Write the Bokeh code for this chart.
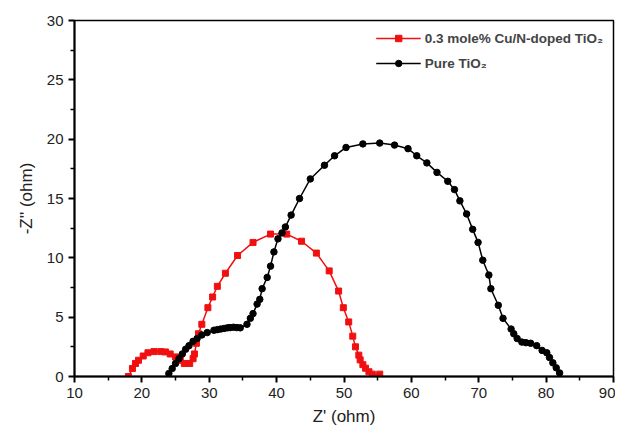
from bokeh.plotting import figure
from bokeh.models import Range1d, FixedTicker, Legend, LegendItem
from bokeh.embed import file_html
from bokeh.resources import INLINE

# Cu/N-doped TiO2 (red)
doped_x = [18.0, 18.6, 19.05, 19.5, 20.2, 20.9, 21.8, 22.8, 23.5, 24.2, 25.0, 25.7, 26.3,
           27.1, 27.6, 27.8, 28.1, 28.4, 28.9, 29.8, 30.5, 31.2, 32.4, 34.2, 36.5, 39.1,
           41.5, 43.7, 45.9, 47.8, 49.2, 49.9, 50.7, 51.3, 51.7, 52.2, 52.4, 52.8, 53.2,
           53.7, 54.2, 55.3]
doped_y = [0.0, 0.67, 1.1, 1.37, 1.73, 2.0, 2.1, 2.1, 2.07, 1.9, 1.65, 1.37, 1.1,
           1.1, 1.5, 1.9, 2.8, 3.6, 4.4, 5.8, 6.7, 7.6, 8.7, 10.2, 11.3, 12.0,
           12.0, 11.4, 10.4, 8.9, 7.2, 5.8, 4.6, 3.4, 2.5, 1.8, 1.4, 1.0, 0.7,
           0.4, 0.2, 0.2]

# Pure TiO2 (black)
pure_x = [24.0, 24.5, 25.0, 25.5, 26.0, 26.5, 27.0, 27.6, 28.2, 28.9, 29.7, 30.7, 31.2,
          31.7, 32.2, 32.7, 33.1, 33.6, 34.1, 34.6, 35.6, 36.1, 36.5, 37.1, 37.5, 37.85,
          38.6, 39.1, 39.6, 40.2, 40.8, 41.3, 42.15, 43.4, 45.0, 47.1, 48.6, 50.3, 52.8,
          55.3, 57.5, 59.5, 60.8, 62.3, 63.8, 65.4, 66.4, 67.2, 68.2, 69.1, 69.9, 70.6,
          71.5, 71.8, 72.9, 73.6, 74.8, 75.2, 75.7, 76.4, 77.0, 77.7, 78.6, 79.4, 80.1,
          80.5, 81.0, 81.5, 82.0]
pure_y = [0.25, 0.67, 1.1, 1.5, 1.9, 2.3, 2.6, 2.96, 3.2, 3.5, 3.7, 3.9, 3.95,
          4.0, 4.05, 4.1, 4.12, 4.15, 4.12, 4.1, 4.4, 4.9, 5.3, 6.1, 6.5, 7.4,
          8.35, 9.3, 10.5, 11.6, 12.1, 12.6, 13.6, 15.0, 16.65, 17.8, 18.6, 19.3, 19.6,
          19.67, 19.5, 19.2, 18.6, 18.0, 17.2, 16.45, 15.75, 14.8, 13.7, 12.4, 11.3, 9.8,
          8.55, 7.4, 6.0, 4.9, 4.0, 3.6, 3.2, 2.9, 2.85, 2.8, 2.6, 2.2, 2.0,
          1.6, 1.15, 0.73, 0.3]

x_ticks = [10, 20, 30, 40, 50, 60, 70, 80, 90]
y_ticks = [0, 5, 10, 15, 20, 25, 30]

FONT = "Liberation Sans"

p = figure(width=615, height=428, output_backend="svg", toolbar_location=None,
           x_range=Range1d(10, 90), y_range=Range1d(0, 30),
           min_border_left=74, min_border_right=2, min_border_top=20, min_border_bottom=50)
p.background_fill_color = "white"
p.border_fill_color = "white"
p.outline_line_color = "black"
p.outline_line_width = 1.5
p.grid.visible = False

for ax in (p.xaxis[0], p.yaxis[0]):
    ax.axis_line_width = 2
    ax.major_tick_line_width = 2
    ax.minor_tick_line_width = 1.5
    ax.major_tick_out = 6
    ax.major_tick_in = 0
    ax.minor_tick_out = 4
    ax.minor_tick_in = 0
    ax.major_label_text_font = FONT
    ax.major_label_text_font_size = "15px"
    ax.major_label_text_color = "#222222"
    ax.axis_label_text_font = FONT
    ax.axis_label_text_font_size = "17px"
    ax.axis_label_text_font_style = "normal"
    ax.axis_label_text_color = "#222222"

p.xaxis[0].ticker = FixedTicker(ticks=x_ticks, minor_ticks=[15, 25, 35, 45, 55, 65, 75, 85])
p.yaxis[0].ticker = FixedTicker(ticks=y_ticks, minor_ticks=[2.5, 7.5, 12.5, 17.5, 22.5, 27.5])
p.xaxis[0].axis_label = "Z' (ohm)"
p.yaxis[0].axis_label = "-Z'' (ohm)"
p.xaxis[0].axis_label_standoff = 6
p.yaxis[0].axis_label_standoff = 8
p.xaxis[0].major_label_standoff = 5
p.yaxis[0].major_label_standoff = 5

rl = p.line(doped_x, doped_y, line_color="#f01010", line_width=1.5)
rs = p.scatter(doped_x, doped_y, marker="square", size=6, fill_color="#f01010", line_color="#f01010")
bl = p.line(pure_x, pure_y, line_color="black", line_width=1.5)
bs = p.scatter(pure_x, pure_y, marker="circle", size=6.5, fill_color="black", line_color="black")

legend = Legend(items=[
    LegendItem(label="0.3 mole% Cu/N-doped TiO\u2082", renderers=[rl, rs]),
    LegendItem(label="Pure TiO\u2082", renderers=[bl, bs]),
], location="top_right")
legend.border_line_alpha = 0
legend.background_fill_alpha = 0
legend.label_text_font = FONT
legend.label_text_font_style = "bold"
legend.label_text_font_size = "13.5px"
legend.glyph_width = 45
legend.glyph_height = 16
legend.spacing = 9
legend.padding = 4
legend.margin = 6
legend.label_standoff = 4
p.add_layout(legend)

open("out.html", "w").write(file_html(p, INLINE))
